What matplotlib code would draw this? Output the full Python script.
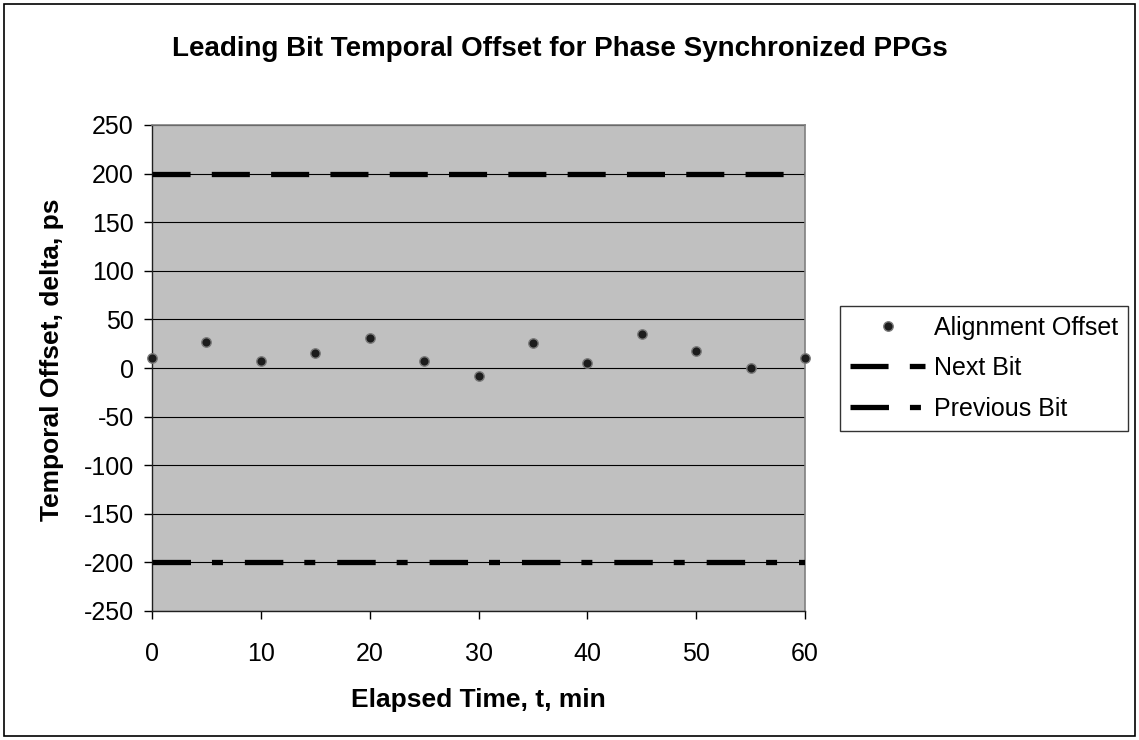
import matplotlib
matplotlib.use("Agg")
import matplotlib.pyplot as plt
from matplotlib.patches import Rectangle

plt.rcParams['font.family'] = ['Liberation Sans', 'DejaVu Sans']
plt.rcParams['lines.scale_dashes'] = False
plt.rcParams['axes.unicode_minus'] = False

# Data
elapsed_min = [0, 5, 10, 15, 20, 25, 30, 35, 40, 45, 50, 55, 60]
alignment_offset_ps = [10, 27, 7, 15, 31, 7, -8, 26, 5, 35, 18, 0, 10]
next_bit_x = [0, 60]
next_bit_ps = [200, 200]
previous_bit_x = [0, 60]
previous_bit_ps = [-200, -200]
y_ticks = [250, 200, 150, 100, 50, 0, -50, -100, -150, -200, -250]
x_ticks = [0, 10, 20, 30, 40, 50, 60]

W, H = 1139, 740
fig = plt.figure(figsize=(W / 100, H / 100), dpi=100)
fig.patch.set_facecolor('white')

# outer chart border
fig.add_artist(Rectangle((4 / W, 4 / H), (W - 8) / W, (H - 8) / H,
                         transform=fig.transFigure, fill=False,
                         edgecolor='black', linewidth=1.2))

ax = fig.add_axes([152 / W, 1 - 611 / H, (805 - 152) / W, (611 - 125) / H])
ax.set_facecolor('#C0C0C0')
ax.set_xlim(0, 60)
ax.set_ylim(-250, 250)
ax.set_yticks(y_ticks)
ax.set_xticks(x_ticks)
ax.grid(axis='y', color='black', linewidth=0.8, zorder=1)
ax.set_axisbelow(True)

for side in ('top', 'right'):
    ax.spines[side].set_color('#808080')
    ax.spines[side].set_linewidth(1.2)
for side in ('left', 'bottom'):
    ax.spines[side].set_color('#202020')
    ax.spines[side].set_linewidth(1.0)

ax.tick_params(axis='both', direction='out', length=6, width=1,
               labelsize=18, colors='black')
ax.tick_params(axis='y', pad=7)
ax.tick_params(axis='x', pad=16)

ax.plot(elapsed_min, alignment_offset_ps, linestyle='none', marker='o',
        markersize=6.8, markerfacecolor='#1c1c1c', markeredgecolor='#7a7a7a',
        markeredgewidth=1.0, clip_on=False, zorder=5,
        label='Alignment Offset')

nb, = ax.plot(next_bit_x, next_bit_ps, color='black', linewidth=3.8,
              solid_capstyle='butt', dash_capstyle='butt', zorder=4,
              label='Next Bit')
nb.set_dashes((27.4, 15.3))

pb, = ax.plot(previous_bit_x, previous_bit_ps, color='black', linewidth=3.8,
              solid_capstyle='butt', dash_capstyle='butt', zorder=4,
              label='Previous Bit')
pb.set_dashes((27.7, 15.1, 7.9, 15.8))

fig.text(560 / W, 1 - 49 / H,
         'Leading Bit Temporal Offset for Phase Synchronized PPGs',
         ha='center', va='center', fontsize=20, fontweight='bold')
fig.text(478 / W, 1 - 700 / H, 'Elapsed Time, t, min',
         ha='center', va='center', fontsize=19, fontweight='bold')
fig.text(52 / W, 1 - 360 / H, 'Temporal Offset, delta, ps', rotation=90,
         ha='center', va='center', fontsize=19, fontweight='bold')

leg = fig.legend(loc='center left', bbox_to_anchor=(840 / W, 1 - 368 / H),
                 fontsize=18, frameon=True, fancybox=False,
                 edgecolor='black', handlelength=3.0, handletextpad=0.35,
                 borderpad=0.4, labelspacing=0.66, borderaxespad=0)
leg.get_frame().set_linewidth(1.0)

fig.savefig('out.png', dpi=100)
